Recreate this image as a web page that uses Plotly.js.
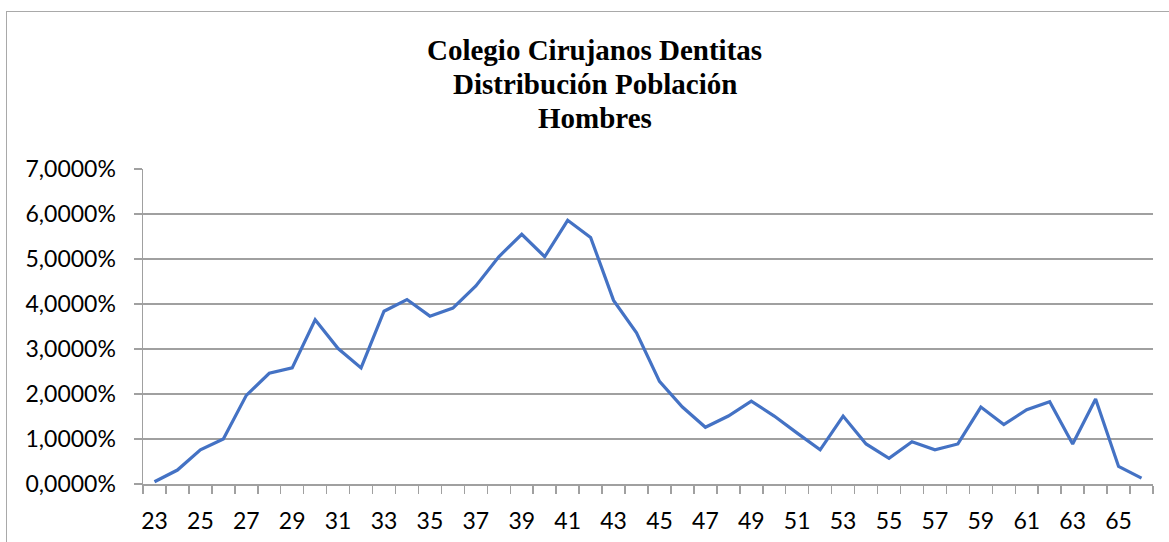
<!DOCTYPE html>
<html>
<head>
<meta charset="utf-8">
<script src="https://cdn.plot.ly/plotly-3.0.1.min.js"></script>
<style>
  html, body { margin: 0; padding: 0; background: #fff; }
  #wrap { position: relative; width: 1169px; height: 542px; }
  #chart { width: 1169px; height: 542px; }
  #frame { position: absolute; left: 6px; top: 11px; right: -5px; bottom: -5px;
           border-left: 1.5px solid #a9a9a9; border-top: 1.5px solid #a9a9a9;
           pointer-events: none; }
</style>
</head>
<body>
<div id="wrap">
  <div id="chart"></div>
  <div id="frame"></div>
</div>
<script>
const ages = [23, 24, 25, 26, 27, 28, 29, 30, 31, 32, 33, 34, 35, 36, 37, 38, 39, 40, 41, 42, 43, 44,
              45, 46, 47, 48, 49, 50, 51, 52, 53, 54, 55, 56, 57, 58, 59, 60, 61, 62, 63, 64, 65, 66];
const pctHombres = [0.05, 0.31, 0.76, 1.00, 1.97, 2.46, 2.58, 3.65, 3.01, 2.58, 3.84, 4.10, 3.73, 3.91,
                    4.40, 5.05, 5.55, 5.05, 5.86, 5.48, 4.08, 3.36, 2.28, 1.71, 1.26, 1.51, 1.84, 1.51,
                    1.13, 0.76, 1.51, 0.89, 0.57, 0.94, 0.76, 0.89, 1.71, 1.32, 1.65, 1.83, 0.89, 1.89,
                    0.39, 0.13];
const xTickVals = [23, 25, 27, 29, 31, 33, 35, 37, 39, 41, 43, 45, 47, 49, 51, 53, 55, 57, 59, 61, 63, 65];
const xTickLabels = ['23', '25', '27', '29', '31', '33', '35', '37', '39', '41', '43', '45', '47', '49',
                     '51', '53', '55', '57', '59', '61', '63', '65'];
const yTickVals = [0, 1, 2, 3, 4, 5, 6, 7];
const yTickLabels = ['0,0000%', '1,0000%', '2,0000%', '3,0000%', '4,0000%', '5,0000%', '6,0000%', '7,0000%'];
const titleLines = ['Colegio Cirujanos Dentitas', 'Distribución Población', 'Hombres'];

const axisGray = '#a0a0a0';
const tickFont = { family: 'Lato, "Open Sans", sans-serif', size: 23, color: '#000' };
const titleFont = { family: '"Liberation Serif", "Times New Roman", serif', size: 29, color: '#000' };

const trace = {
  x: ages,
  y: pctHombres,
  type: 'scatter',
  mode: 'lines',
  line: { color: '#4472C4', width: 3.2 },
  hoverinfo: 'x+y'
};

// plot area: top 169px, height 315px; place title lines by pixel centre
const plotTop = 169, plotH = 315, plotL = 143, plotW = 1169 - 143 - 16;
const titleCentersPx = [50, 84, 118];
const titleCenterX = 594.5;
const annotations = titleLines.map((t, i) => ({
  text: '<b>' + t + '</b>',
  xref: 'paper', yref: 'paper',
  x: (titleCenterX - plotL) / plotW,
  y: 1 - (titleCentersPx[i] - plotTop) / plotH,
  xanchor: 'center', yanchor: 'middle',
  showarrow: false,
  font: titleFont
}));

const layout = {
  width: 1169,
  height: 542,
  margin: { l: plotL, r: 16, t: plotTop, b: 58, pad: 0 },
  paper_bgcolor: 'rgba(0,0,0,0)',
  plot_bgcolor: '#fff',
  showlegend: false,
  annotations: annotations,
  xaxis: {
    range: [22.5, 66.5],
    tickmode: 'array',
    tickvals: xTickVals,
    ticktext: xTickLabels,
    ticks: 'outside',
    ticklen: 8,
    tickcolor: 'rgba(0,0,0,0)',
    ticklabelstandoff: 8,
    showgrid: false,
    zeroline: false,
    showline: true,
    linecolor: axisGray,
    linewidth: 1.5,
    tickfont: tickFont,
    minor: { tickmode: 'linear', tick0: 22.5, dtick: 1, ticks: 'outside', ticklen: 8,
             tickcolor: axisGray, tickwidth: 1.5, showgrid: false },
    fixedrange: true
  },
  yaxis: {
    range: [0, 7],
    tickmode: 'array',
    tickvals: yTickVals,
    ticktext: yTickLabels,
    ticks: 'outside',
    ticklen: 8,
    tickcolor: axisGray,
    tickwidth: 1.5,
    ticklabelstandoff: 13,
    showgrid: true,
    gridcolor: axisGray,
    gridwidth: 1.5,
    zeroline: false,
    showline: true,
    linecolor: axisGray,
    linewidth: 1.5,
    tickfont: tickFont,
    fixedrange: true
  }
};

Plotly.newPlot('chart', [trace], layout, { displayModeBar: false, staticPlot: true });
</script>
</body>
</html>
